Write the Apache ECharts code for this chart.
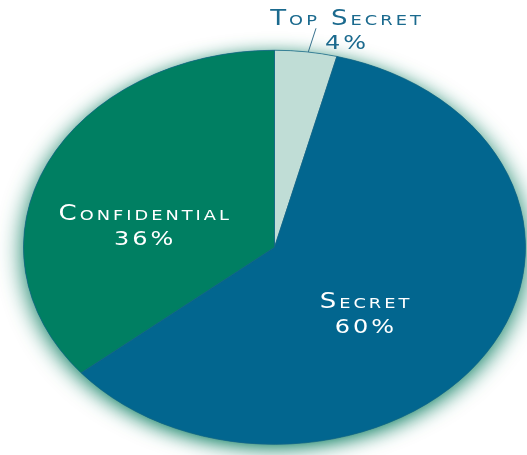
<!DOCTYPE html>
<html>
<head>
    <meta charset="utf-8">
    <title>Classification</title>
    <style>
        body { margin: 0; background: #fff; }
        #wrap { width: 527px; height: 455px; overflow: hidden; position: relative; }
        /* pie is drawn round, then squeezed into an ellipse */
        #main { width: 527px; height: 580px; transform: scaleY(0.785); transform-origin: 0 0; }
        #main text { font-variant: small-caps !important; letter-spacing: 3px !important; }
    </style>
</head>
<body>
<div id="wrap"><div id="main"></div></div>

<script src="https://cdn.jsdelivr.net/npm/echarts@6/dist/echarts.min.js"></script>
<script>
    var names = ['Top Secret', 'Secret', 'Confidential'];
    var values = [4, 60, 36];
    var colors = ['#c0ddd6', '#02668f', '#007f62'];

    // nudges for the inside labels (dx, dy)
    var labelShift = [null, {dx: -17, dy: 16}, {dx: -13, dy: 27}];

    var center = [274.5, 315];
    var radius = 251;

    var myChart = echarts.init(document.getElementById('main'), null, {renderer: 'svg'});

    var pieData = names.map(function (n, i) {
        var item = {name: n, value: values[i], itemStyle: {color: colors[i]}};
        if (i === 0) {
            item.label = {
                position: 'outside',
                rich: {
                    n: {color: '#1b6a8e', fontSize: 26, lineHeight: 31, fontFamily: 'DejaVu Sans'},
                    p: {color: '#1b6a8e', fontSize: 24, lineHeight: 31, fontFamily: 'DejaVu Sans'}
                }
            };
            item.labelLine = {show: true, lineStyle: {color: '#1f5f80', width: 1}};
        }
        return item;
    });

    var option = {
        animation: false,
        series: [
            {
                // glow behind the whole pie
                type: 'pie',
                silent: true,
                z: 1,
                center: center,
                radius: radius,
                label: {show: false},
                itemStyle: {
                    color: '#007f62',
                    shadowBlur: 24,
                    shadowColor: 'rgba(0,120,90,1)',
                    shadowOffsetY: 5
                },
                data: [{value: 1, name: ''}]
            },
            {
                type: 'pie',
                z: 2,
                center: center,
                radius: radius,
                startAngle: 90,
                clockwise: true,
                itemStyle: {borderColor: '#17658a', borderWidth: 0.8},
                label: {
                    show: true,
                    position: 'inside',
                    formatter: '{n|{b}}\n{p|{d}%}',
                    rich: {
                        n: {color: '#fff', fontSize: 26, lineHeight: 33, fontFamily: 'DejaVu Sans'},
                        p: {color: '#fff', fontSize: 24, lineHeight: 33, fontFamily: 'DejaVu Sans'}
                    }
                },
                labelLine: {show: false},
                labelLayout: function (p) {
                    if (p.dataIndex === 0) {
                        return {
                            x: 347, y: 38, align: 'center', verticalAlign: 'middle',
                            labelLinePoints: [[305, 79], [316, 36], [316, 36]]
                        };
                    }
                    return labelShift[p.dataIndex];
                },
                data: pieData
            }
        ]
    };
    myChart.setOption(option);
</script>
</body>
</html>
